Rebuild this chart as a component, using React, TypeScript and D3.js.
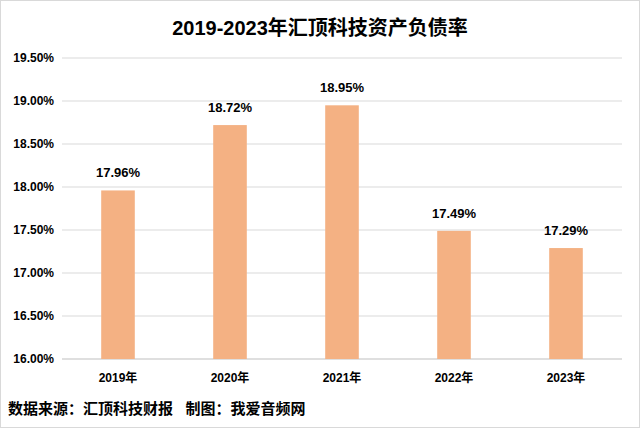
import React from "react";
import * as d3 from "d3";

const categories = ["2019年", "2020年", "2021年", "2022年", "2023年"];
const values = [17.96, 18.72, 18.95, 17.49, 17.29];
const yTicks = [16.0, 16.5, 17.0, 17.5, 18.0, 18.5, 19.0, 19.5];
const title = "2019-2023年汇顶科技资产负债率";
const footer = "数据来源：汇顶科技财报   制图：我爱音频网";

const W = 640;
const H = 428;
const margin = { left: 62, right: 18, top: 58, bottom: 69 };

export default function App() {
  const x = d3
    .scaleBand<string>()
    .domain(categories)
    .range([margin.left, W - margin.right])
    .paddingInner(0.7)
    .paddingOuter(0.35);
  const y = d3.scaleLinear().domain([16, 19.5]).range([H - margin.bottom, margin.top]);
  const font = "'Liberation Sans', Arial, 'Noto Sans CJK SC', sans-serif";
  return (
    <svg
      width={W}
      height={H}
      style={{ position: "absolute", left: 0, top: 0, background: "#fff" }}
      fontFamily={font}
    >
      <rect x={0.5} y={0.5} width={W - 1} height={H - 1} fill="#fff" stroke="#d9d9d9" />
      <text x={W / 2} y={35} textAnchor="middle" fontSize={20} fontWeight="bold" fill="#000">
        {title}
      </text>
      {yTicks.map((t) => (
        <g key={t}>
          <line
            x1={margin.left}
            x2={W - margin.right}
            y1={y(t)}
            y2={y(t)}
            stroke={t === 16 ? "#bfbfbf" : "#d9d9d9"}
            strokeWidth={1}
          />
          <text
            x={margin.left - 8}
            y={y(t)}
            dy="0.35em"
            textAnchor="end"
            fontSize={12}
            fontWeight="bold"
            fill="#000"
          >
            {d3.format(".2f")(t) + "%"}
          </text>
        </g>
      ))}
      {categories.map((c, i) => (
        <g key={c}>
          <rect
            x={x(c)}
            y={y(values[i])}
            width={x.bandwidth()}
            height={y(16) - y(values[i])}
            fill="#F4B183"
          />
          <text
            x={x(c)! + x.bandwidth() / 2}
            y={y(values[i]) - 13}
            textAnchor="middle"
            fontSize={13}
            fontWeight="bold"
            fill="#000"
          >
            {values[i].toFixed(2) + "%"}
          </text>
          <text
            x={x(c)! + x.bandwidth() / 2}
            y={H - margin.bottom + 23}
            textAnchor="middle"
            fontSize={12}
            fontWeight="bold"
            fill="#000"
          >
            {c}
          </text>
        </g>
      ))}
      <text x={8} y={414} fontSize={15} fontWeight="bold" fill="#000" style={{ whiteSpace: "pre" }}>
        {footer}
      </text>
    </svg>
  );
}
